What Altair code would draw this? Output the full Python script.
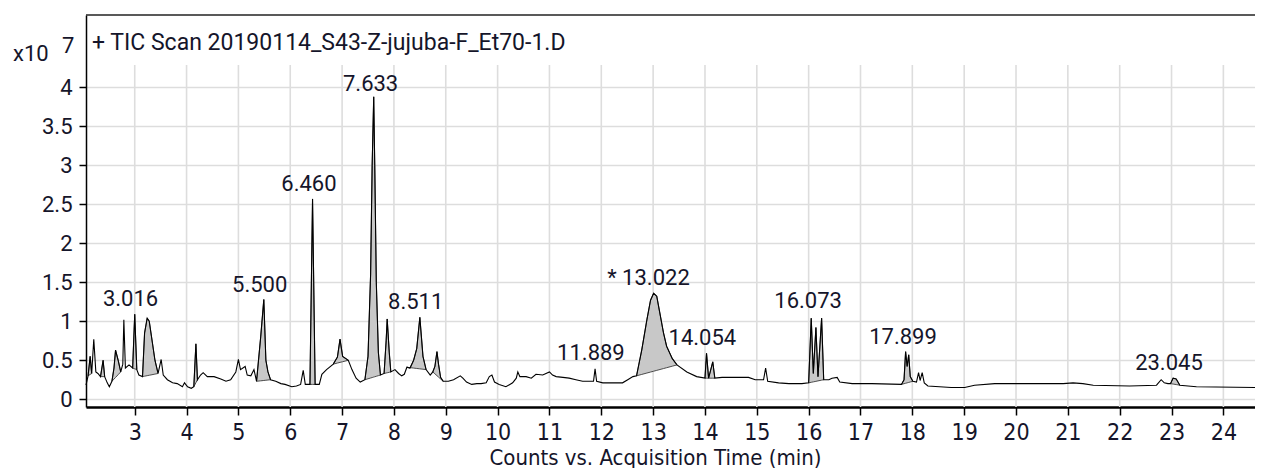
import altair as alt
import pandas as pd

# ---------------- data (intensity in units of 1e7 counts) ----------------
trace_t = [2.06, 2.10, 2.14, 2.17, 2.21, 2.25, 2.29, 2.34, 2.39, 2.42, 2.47, 2.51, 2.56, 2.60, 2.63,
           2.68, 2.73, 2.77, 2.79, 2.82, 2.89, 2.96, 3.00, 3.04, 3.08, 3.15, 3.19, 3.24, 3.28, 3.39,
           3.45, 3.51, 3.55, 3.63, 3.73, 3.82, 3.92, 3.96, 4.02, 4.09, 4.14, 4.18, 4.21, 4.27, 4.32,
           4.40, 4.53, 4.66, 4.76, 4.85, 4.95, 5.00, 5.04, 5.13, 5.17, 5.24, 5.30, 5.35, 5.43, 5.49,
           5.53, 5.57, 5.62, 5.72, 5.82, 5.90, 6.03, 6.12, 6.20, 6.25, 6.29, 6.38, 6.43, 6.48, 6.56,
           6.61, 6.70, 6.83, 6.91, 6.96, 7.01, 7.12, 7.19, 7.27, 7.35, 7.44, 7.50, 7.55, 7.58, 7.61,
           7.63, 7.66, 7.70, 7.74, 7.81, 7.85, 7.87, 7.91, 7.94, 8.02, 8.09, 8.15, 8.20, 8.25, 8.31,
           8.38, 8.44, 8.50, 8.56, 8.62, 8.70, 8.75, 8.79, 8.83, 8.86, 8.90, 8.95, 9.05, 9.15, 9.28,
           9.33, 9.40, 9.50, 9.60, 9.68, 9.78, 9.84, 9.89, 9.94, 10.03, 10.16, 10.29, 10.36, 10.39,
           10.43, 10.55, 10.65, 10.74, 10.87, 11.00, 11.06, 11.13, 11.26, 11.38, 11.51, 11.64, 11.77,
           11.85, 11.88, 11.91, 12.03, 12.16, 12.29, 12.41, 12.51, 12.61, 12.68, 12.78, 12.88, 12.95,
           13.01, 13.07, 13.20, 13.26, 13.37, 13.46, 13.65, 13.84, 14.00, 14.03, 14.07, 14.15, 14.19,
           14.33, 14.52, 14.84, 14.97, 15.13, 15.17, 15.21, 15.42, 15.62, 15.87, 16.00, 16.05, 16.09,
           16.14, 16.18, 16.25, 16.29, 16.39, 16.45, 16.55, 16.60, 16.84, 17.22, 17.79, 17.84, 17.87,
           17.90, 17.93, 17.96, 18.01, 18.08, 18.12, 18.15, 18.19, 18.23, 18.30, 18.75, 19.01, 19.20,
           19.59, 20.04, 20.50, 20.91, 21.10, 21.29, 21.49, 22.19, 22.71, 22.80, 22.86, 22.93, 22.98,
           23.03, 23.09, 23.16, 23.48, 24.61]
trace_v = [0.18, 0.30, 0.55, 0.33, 0.77, 0.35, 0.33, 0.29, 0.50, 0.29, 0.21, 0.16, 0.23, 0.40, 0.63,
           0.50, 0.35, 0.45, 1.02, 0.40, 0.44, 0.40, 1.09, 0.38, 0.31, 0.29, 0.85, 1.04, 1.00, 0.50,
           0.33, 0.51, 0.31, 0.25, 0.21, 0.20, 0.16, 0.21, 0.16, 0.14, 0.16, 0.71, 0.25, 0.31, 0.34,
           0.29, 0.29, 0.26, 0.23, 0.25, 0.35, 0.51, 0.38, 0.42, 0.31, 0.30, 0.38, 0.23, 0.80, 1.28,
           0.50, 0.35, 0.25, 0.23, 0.20, 0.19, 0.16, 0.17, 0.19, 0.37, 0.19, 0.19, 2.57, 0.19, 0.19,
           0.32, 0.38, 0.45, 0.54, 0.77, 0.55, 0.50, 0.38, 0.27, 0.22, 0.25, 0.55, 1.60, 3.00, 3.88,
           3.00, 1.50, 0.60, 0.31, 0.33, 0.75, 1.03, 0.60, 0.35, 0.38, 0.33, 0.30, 0.32, 0.41, 0.40,
           0.50, 0.65, 1.05, 0.55, 0.38, 0.31, 0.35, 0.42, 0.61, 0.45, 0.28, 0.23, 0.23, 0.25, 0.30,
           0.27, 0.22, 0.19, 0.20, 0.20, 0.21, 0.29, 0.31, 0.22, 0.19, 0.16, 0.21, 0.27, 0.35,
           0.29, 0.29, 0.27, 0.32, 0.31, 0.35, 0.31, 0.29, 0.28, 0.27, 0.25, 0.23, 0.23,
           0.23, 0.39, 0.23, 0.21, 0.21, 0.21, 0.21, 0.25, 0.29, 0.30, 0.63, 1.02, 1.27,
           1.36, 1.32, 0.85, 0.68, 0.52, 0.44, 0.35, 0.29, 0.27, 0.59, 0.27, 0.48, 0.27,
           0.28, 0.28, 0.28, 0.25, 0.25, 0.40, 0.23, 0.21, 0.20, 0.20, 0.21, 1.04, 0.33,
           0.92, 0.29, 1.04, 0.25, 0.25, 0.27, 0.28, 0.22, 0.20, 0.20, 0.19, 0.25, 0.61,
           0.42, 0.57, 0.29, 0.23, 0.22, 0.34, 0.24, 0.34, 0.21, 0.17, 0.15, 0.15, 0.18,
           0.20, 0.20, 0.20, 0.20, 0.21, 0.20, 0.18, 0.17, 0.18, 0.25, 0.21, 0.20, 0.20,
           0.27, 0.26, 0.18, 0.16, 0.15]

# integrated (shaded) peaks: start / end retention times of the integration baseline
peak_start = [2.10, 2.34, 2.56, 2.96, 3.15, 4.14, 5.35, 6.38, 6.83, 7.44, 7.81, 8.25, 8.75,
              12.68, 14.00, 16.00, 17.79, 22.98]
peak_end = [2.17, 2.42, 2.73, 3.04, 3.45, 4.21, 5.62, 6.48, 7.12, 7.74, 7.94, 8.62, 8.95,
            13.46, 14.19, 16.29, 18.01, 23.16]

label_text = ["3.016", "5.500", "6.460", "7.633", "8.511", "11.889", "* 13.022", "14.054",
              "16.073", "17.899", "23.045"]
label_t = [2.92, 5.41, 6.36, 7.55, 8.42, 11.80, 12.91, 13.95, 15.99, 17.82, 22.95]
label_v = [1.29, 1.47, 2.76, 4.05, 1.25, 0.59, 1.56, 0.79, 1.26, 0.80, 0.47]

x_ticks = list(range(3, 25))
y_ticks = [0, 0.5, 1, 1.5, 2, 2.5, 3, 3.5, 4]

title_text = "+ TIC Scan 20190114_S43-Z-jujuba-F_Et70-1.D"
x_title = "Counts vs. Acquisition Time (min)"
exp_base = "x10"
exp_power = "7"

# ---------------- build tables ----------------
W, H = 1169, 392
XDOM = [2.06, 24.61]
YDOM = [-0.1, 4.93]
NARROW = "DejaVu Sans Condensed, Liberation Sans Narrow, sans-serif"
TXT = "#15152a"

trace = pd.DataFrame({"t": trace_t, "v": trace_v})

rows = []
for i, (t0, t1) in enumerate(zip(peak_start, peak_end)):
    seg = trace[(trace.t >= t0 - 1e-9) & (trace.t <= t1 + 1e-9)]
    v0, v1 = seg.v.iloc[0], seg.v.iloc[-1]
    for t, v in zip(seg.t, seg.v):
        rows.append({"peak": i, "t": t, "v": v, "b": v0 + (v1 - v0) * (t - t0) / (t1 - t0)})
areas = pd.DataFrame(rows)

labels = pd.DataFrame({"s": label_text, "t": label_t, "v": label_v})

xs = alt.Scale(domain=XDOM, nice=False, zero=False)
ys = alt.Scale(domain=YDOM, nice=False, zero=False)

x_axis = alt.Axis(
    values=x_ticks, format="d", grid=False, domainColor="black", domainWidth=2.5,
    tickColor="black", tickWidth=1.5, tickSize=8, labelFont=NARROW, labelFontSize=23,
    labelColor=TXT, labelPadding=6, labelFlush=False, title=x_title, titleFont=NARROW,
    titleFontSize=22, titleFontWeight="normal", titleColor=TXT, titleX=569, titleY=57,
    titleBaseline="alphabetic", titleAlign="center")
y_axis = alt.Axis(
    values=y_ticks, format="~g", grid=True, gridColor="#dddddd", gridWidth=1.6,
    domainColor="black", domainWidth=1.5, tickColor="black", tickWidth=1.5, tickSize=7,
    labelFont="Roboto", labelFontSize=22, labelColor=TXT, labelPadding=7, title=None)

X = alt.X("t:Q", scale=xs, axis=x_axis)
Y = alt.Y("v:Q", scale=ys, axis=y_axis)

vgrid = alt.Chart(pd.DataFrame({"t": x_ticks})).mark_rule(color="#dddddd", strokeWidth=1.6).encode(
    x=X, y=alt.value(50), y2=alt.value(H))

shade = alt.Chart(areas).mark_area(color="#c8c8c8", stroke="#3a3a3a", strokeWidth=0.9, opacity=1).encode(
    x=X, y=Y, y2="b:Q", detail="peak:N")

line = alt.Chart(trace).mark_line(color="black", strokeWidth=1.1).encode(x=X, y=Y)

peak_labels = alt.Chart(labels).mark_text(font="Roboto", fontSize=22, color=TXT,
                                          align="center", baseline="middle").encode(
    x=X, y=Y, text="s:N")

title = alt.Chart(pd.DataFrame({"s": [title_text]})).mark_text(
    font="Roboto", fontSize=23, color=TXT, align="left", baseline="alphabetic").encode(
    x=alt.value(6), y=alt.value(35), text="s:N")

xbase = alt.Chart(pd.DataFrame({"s": [exp_base]})).mark_text(
    font="Roboto", fontSize=22, color=TXT, align="left", baseline="alphabetic").encode(
    x=alt.value(-73), y=alt.value(46), text="s:N")

xpow = alt.Chart(pd.DataFrame({"s": [exp_power]})).mark_text(
    font="Roboto", fontSize=22, color=TXT, align="left", baseline="alphabetic").encode(
    x=alt.value(-24), y=alt.value(38), text="s:N")

frame_top = alt.Chart(pd.DataFrame({"a": [0]})).mark_rule(color="#222222", strokeWidth=1.5).encode(
    x=alt.value(0), x2=alt.value(W), y=alt.value(0))

chart = alt.layer(vgrid, shade, line, peak_labels, title, xbase, xpow, frame_top).properties(
    width=W, height=H,
    autosize=alt.AutoSizeParams(type="none"),
    padding={"left": 78, "top": 7, "right": 0, "bottom": 61},
    background="white",
).configure_view(stroke=None)

chart.save("out.html", embed_options={"renderer": "svg", "actions": False})
